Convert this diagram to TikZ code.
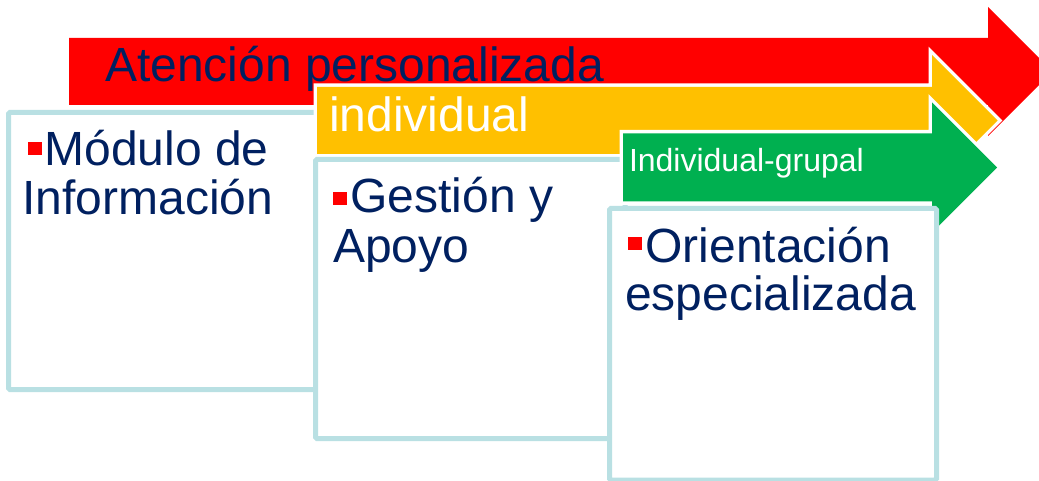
\documentclass[tikz,border=0pt]{standalone}
\usepackage{fontspec}
\setmainfont{Liberation Sans}
\definecolor{navy}{HTML}{002060}
\definecolor{boxline}{HTML}{B9E0E3}
\definecolor{arrred}{HTML}{FF0000}
\definecolor{arryellow}{HTML}{FFC000}
\definecolor{arrgreen}{HTML}{00B050}
\tikzset{
  bigtxt/.style={inner sep=0pt, outer sep=0pt, anchor=base west, font=\fontsize{48}{50}\selectfont},
  smalltxt/.style={inner sep=0pt, outer sep=0pt, anchor=base west, font=\fontsize{32}{34}\selectfont},
  panel/.style={draw=boxline, line width=5pt, fill=white, rounded corners=1.5pt},
  bulletsq/.style={fill=arrred},
  whiteedge/.style={preaction={draw=white, line width=7pt, line join=miter}},
}
\begin{document}
\begin{tikzpicture}[x=1pt,y=-1pt]
\useasboundingbox (0,0) rectangle (1039,481);
\fill[white] (0,0) rectangle (1039,481);
% red arrow
\fill[arrred] (69,38) -- (988,38) -- (988,7) -- (1052.5,71.5) -- (988,136) -- (988,105) -- (69,105) -- cycle;
\node[bigtxt, text=navy] (t1) at (105,82) {Atención personalizada};
% box 1
\draw[panel] (8.5,112.5) rectangle (330,389.5);
\fill[bulletsq] (28,142) rectangle (42,155);
\node[bigtxt, text=navy] (b1a) at (44.5,166) {Módulo de};
\node[bigtxt, text=navy] (b1b) at (22.5,215) {Información};
% yellow arrow
\fill[arryellow, whiteedge] (317,87) -- (932,87) -- (932,55) -- (997.5,120.5) -- (932,186) -- (932,154) -- (317,154) -- cycle;
\node[bigtxt, text=white] (t2) at (329,132) {individual};
% box 2
\draw[panel] (315.5,159.5) rectangle (625,438.5);
\fill[bulletsq] (333,192) rectangle (347,205);
\node[bigtxt, text=navy] (b2a) at (350.5,213) {Gestión y};
\node[bigtxt, text=navy] (b2b) at (333,262) {Apoyo};
% green arrow
\fill[arrgreen, whiteedge] (623,133.5) -- (932,133.5) -- (932,102.5) -- (997,167.5) -- (932,232.5) -- (932,201.5) -- (623,201.5) -- cycle;
\node[smalltxt, text=white] (t3) at (629,172) {Individual-grupal};
% box 3
\draw[panel] (609.5,208.5) rectangle (936.5,480);
\fill[bulletsq] (628,237) rectangle (642,250);
\node[bigtxt, text=navy] (b3a) at (645.5,262) {Orientación};
\node[bigtxt, text=navy] (b3b) at (625,310) {especializada};
\end{tikzpicture}
\end{document}
